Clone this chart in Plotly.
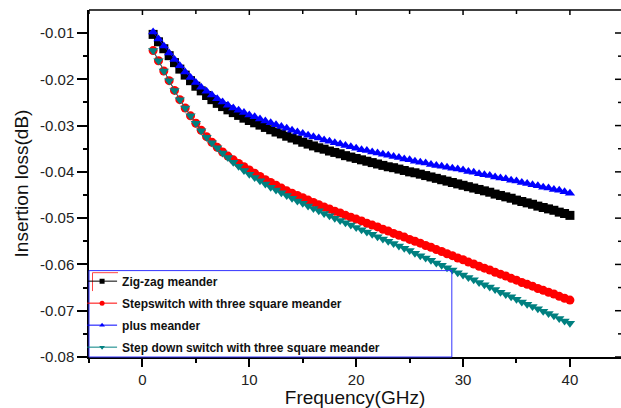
import plotly.graph_objects as go

# ---------------- data ----------------
freq_ghz = [1, 1.5, 2, 2.5, 3, 3.5, 4, 4.5, 5, 5.5, 6, 6.5, 7, 7.5, 8, 8.5, 9, 9.5, 10, 10.5,
            11, 11.5, 12, 12.5, 13, 13.5, 14, 14.5, 15, 15.5, 16, 16.5, 17, 17.5, 18, 18.5, 19, 19.5, 20, 20.5,
            21, 21.5, 22, 22.5, 23, 23.5, 24, 24.5, 25, 25.5, 26, 26.5, 27, 27.5, 28, 28.5, 29, 29.5, 30, 30.5,
            31, 31.5, 32, 32.5, 33, 33.5, 34, 34.5, 35, 35.5, 36, 36.5, 37, 37.5, 38, 38.5, 39, 39.5, 40]

zigzag = [-0.0103, -0.0119, -0.0134, -0.0149, -0.0164, -0.0178, -0.0191, -0.0203, -0.0215, -0.0225,
          -0.0235, -0.0244, -0.0252, -0.0259, -0.0266, -0.0272, -0.0278, -0.0284, -0.0289, -0.0294,
          -0.0299, -0.0304, -0.0309, -0.0314, -0.0318, -0.0323, -0.0327, -0.0331, -0.0336, -0.0340,
          -0.0344, -0.0348, -0.0351, -0.0355, -0.0358, -0.0361, -0.0365, -0.0368, -0.0371, -0.0374,
          -0.0377, -0.0380, -0.0383, -0.0386, -0.0389, -0.0391, -0.0394, -0.0397, -0.0400, -0.0402,
          -0.0405, -0.0408, -0.0411, -0.0414, -0.0417, -0.0420, -0.0423, -0.0426, -0.0429, -0.0432,
          -0.0435, -0.0438, -0.0441, -0.0444, -0.0448, -0.0451, -0.0454, -0.0457, -0.0461, -0.0464,
          -0.0467, -0.0470, -0.0474, -0.0477, -0.0480, -0.0483, -0.0487, -0.0490, -0.0494]

stepswitch = [-0.0138, -0.0160, -0.0182, -0.0203, -0.0224, -0.0244, -0.0262, -0.0279, -0.0295, -0.0310,
              -0.0324, -0.0336, -0.0347, -0.0357, -0.0366, -0.0374, -0.0382, -0.0389, -0.0396, -0.0403,
              -0.0410, -0.0417, -0.0423, -0.0429, -0.0435, -0.0441, -0.0446, -0.0451, -0.0456, -0.0461,
              -0.0466, -0.0471, -0.0476, -0.0480, -0.0485, -0.0489, -0.0494, -0.0498, -0.0502, -0.0506,
              -0.0511, -0.0515, -0.0519, -0.0524, -0.0528, -0.0533, -0.0537, -0.0541, -0.0546, -0.0550,
              -0.0554, -0.0559, -0.0563, -0.0568, -0.0572, -0.0577, -0.0581, -0.0586, -0.0590, -0.0595,
              -0.0599, -0.0604, -0.0608, -0.0612, -0.0617, -0.0621, -0.0625, -0.0630, -0.0634, -0.0639,
              -0.0643, -0.0647, -0.0652, -0.0656, -0.0660, -0.0664, -0.0669, -0.0673, -0.0677]

plus_meander = [-0.0098, -0.0113, -0.0128, -0.0143, -0.0157, -0.0171, -0.0184, -0.0196, -0.0207, -0.0217,
                -0.0226, -0.0234, -0.0242, -0.0249, -0.0256, -0.0262, -0.0267, -0.0272, -0.0277, -0.0281,
                -0.0286, -0.0290, -0.0294, -0.0298, -0.0302, -0.0306, -0.0310, -0.0314, -0.0317, -0.0321,
                -0.0324, -0.0327, -0.0331, -0.0334, -0.0337, -0.0340, -0.0343, -0.0346, -0.0349, -0.0352,
                -0.0354, -0.0357, -0.0359, -0.0362, -0.0364, -0.0367, -0.0369, -0.0372, -0.0374, -0.0377,
                -0.0379, -0.0381, -0.0384, -0.0386, -0.0388, -0.0390, -0.0392, -0.0394, -0.0396, -0.0399,
                -0.0401, -0.0404, -0.0406, -0.0408, -0.0411, -0.0413, -0.0415, -0.0418, -0.0420, -0.0423,
                -0.0425, -0.0428, -0.0430, -0.0433, -0.0435, -0.0438, -0.0440, -0.0443, -0.0446]

stepdown = [-0.0138, -0.0160, -0.0182, -0.0203, -0.0224, -0.0244, -0.0262, -0.0279, -0.0295, -0.0311,
            -0.0325, -0.0337, -0.0348, -0.0359, -0.0369, -0.0379, -0.0388, -0.0397, -0.0405, -0.0412,
            -0.0419, -0.0426, -0.0433, -0.0439, -0.0445, -0.0451, -0.0457, -0.0463, -0.0468, -0.0474,
            -0.0479, -0.0484, -0.0490, -0.0495, -0.0500, -0.0505, -0.0510, -0.0515, -0.0520, -0.0525,
            -0.0530, -0.0535, -0.0540, -0.0545, -0.0550, -0.0555, -0.0560, -0.0565, -0.0570, -0.0576,
            -0.0581, -0.0586, -0.0591, -0.0597, -0.0602, -0.0607, -0.0612, -0.0618, -0.0623, -0.0628,
            -0.0633, -0.0639, -0.0644, -0.0649, -0.0654, -0.0660, -0.0665, -0.0670, -0.0675, -0.0681,
            -0.0686, -0.0691, -0.0696, -0.0701, -0.0706, -0.0711, -0.0717, -0.0722, -0.0727]

series_names = ["Zig-zag meander", "Stepswitch with three square meander",
                "plus meander", "Step down switch with three square meander"]

x_tick_vals = [0, 10, 20, 30, 40]
x_tick_text = ["0", "10", "20", "30", "40"]
x_minor_vals = [-5, 5, 15, 25, 35]
y_tick_vals = [-0.08, -0.07, -0.06, -0.05, -0.04, -0.03, -0.02, -0.01]
y_tick_text = ["-0.08", "-0.07", "-0.06", "-0.05", "-0.04", "-0.03", "-0.02", "-0.01"]
y_minor_vals = [-0.075, -0.065, -0.055, -0.045, -0.035, -0.025, -0.015]

# ---------------- styling ----------------
colors = ["#000000", "#ff0000", "#0000ff", "#008080"]
symbols = ["square", "circle", "triangle-up", "triangle-down"]
values = [zigzag, stepswitch, plus_meander, stepdown]

W, H = 621, 408
ML, MR, MT, MB = 89, 0, 10, 51
PW, PH = W - ML - MR, H - MT - MB
X_RANGE = [-5, 44.78]
Y_RANGE = [-0.08, -0.00503]
tick_font = dict(family="Liberation Sans, Arial, sans-serif", size=15, color="#222222")
title_font = dict(family="Liberation Sans, Arial, sans-serif", size=19, color="#111111")
legend_font = dict(family="Liberation Sans, Arial, sans-serif", size=12, color="#111111", weight="bold")

fig = go.Figure()

# legend-only entries (small markers like the reference legend)
for i, (name, c, s) in enumerate(zip(series_names, colors, symbols)):
    fig.add_trace(go.Scatter(x=[None], y=[None], mode="lines+markers", name=name,
                             legendgroup=f"g{i}",
                             line=dict(color=c, width=1),
                             marker=dict(symbol=s, size=5, color=c)))

# data traces
for name, c, s, v in zip(series_names, colors, symbols, values):
    fig.add_trace(go.Scatter(x=freq_ghz, y=v, mode="lines+markers", name=name,
                             showlegend=False,
                             line=dict(color=c, width=1),
                             marker=dict(symbol=s, size=9, color=c, line=dict(width=0))))

fig.update_layout(
    width=W, height=H,
    margin=dict(l=ML, r=MR, t=MT, b=MB, autoexpand=False),
    paper_bgcolor="white", plot_bgcolor="white",
    showlegend=True,
    legend=dict(x=-0.013, y=-0.0134, xanchor="left", yanchor="bottom",
                bgcolor="rgba(0,0,0,0)", borderwidth=0, font=legend_font,
                itemwidth=30, tracegroupgap=3),
    xaxis=dict(range=X_RANGE, tickmode="array", tickvals=x_tick_vals, ticktext=x_tick_text,
               ticks="outside", ticklen=8, tickwidth=1.5, tickcolor="#000",
               showline=True, linecolor="#000", linewidth=1.5, mirror=False,
               showgrid=False, zeroline=False, tickfont=tick_font,
               minor=dict(tickvals=x_minor_vals, ticks="outside", ticklen=4, tickwidth=1.5, tickcolor="#000"),
               title=dict(text="Frequency(GHz)", font=title_font, standoff=6)),
    yaxis=dict(range=Y_RANGE, tickmode="array", tickvals=y_tick_vals, ticktext=y_tick_text,
               ticks="outside", ticklen=10, tickwidth=1.5, tickcolor="#000",
               showline=True, linecolor="#000", linewidth=1.5, mirror=False,
               showgrid=False, zeroline=False, tickfont=tick_font,
               minor=dict(tickvals=y_minor_vals, ticks="outside", ticklen=4, tickwidth=1.5, tickcolor="#000"),
               title=dict(text="Insertion loss(dB)", font=title_font, standoff=6)),
)

# top frame line with inward ticks
fig.add_shape(type="line", xref="paper", yref="paper", x0=0, x1=1, y0=1, y1=1,
              line=dict(color="#000", width=1.5))
for xv in x_tick_vals + x_minor_vals:
    ln = 5 if xv in x_tick_vals else 4
    fig.add_shape(type="line", xref="x", yref="paper", x0=xv, x1=xv, y0=1, y1=1 - ln / PH,
                  line=dict(color="#000", width=1.5))
# right side: inward ticks only (frame line falls just outside the picture)
for yv in y_tick_vals + y_minor_vals:
    ln = 6 if yv in y_tick_vals else 3
    fig.add_shape(type="line", xref="paper", yref="y", x0=1, x1=1 - ln / PW, y0=yv, y1=yv,
                  line=dict(color="#000", width=1.5))

# legend frame (blue) and the small red bracket artefact from the original figure
fig.add_shape(type="rect", xref="paper", yref="paper", x0=0, x1=0.682, y0=0, y1=0.249,
              line=dict(color="#3333ff", width=1), fillcolor="rgba(0,0,0,0)", layer="above")
fig.add_shape(type="line", xref="paper", yref="paper", x0=0.0066, x1=0.0545, y0=0.243, y1=0.243,
              line=dict(color="#ff4444", width=1))
fig.add_shape(type="line", xref="paper", yref="paper", x0=0.0066, x1=0.0066, y0=0.243, y1=0.19,
              line=dict(color="#ff4444", width=1))

fig.write_html("out.html")
